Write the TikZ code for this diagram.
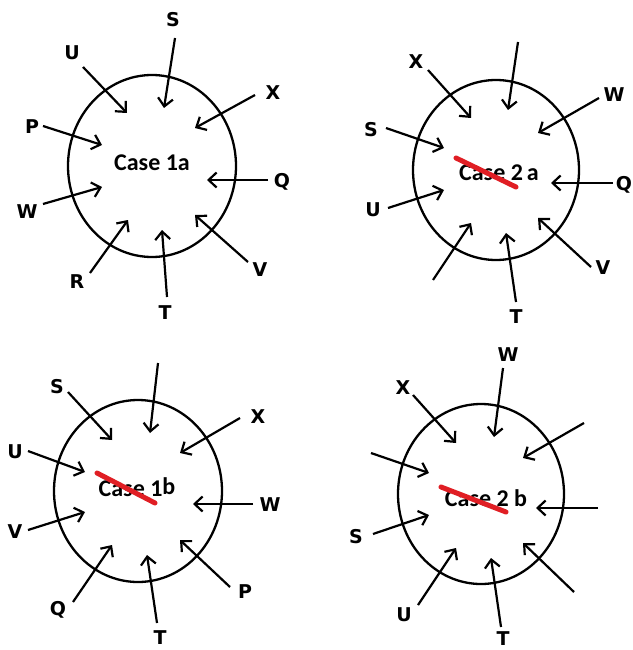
\documentclass[tikz,border=0pt]{standalone}
\usepackage{fontspec}
\setmainfont{DejaVu Sans}
\newfontfamily\casefont{Carlito}
\usetikzlibrary{arrows.meta}
\tikzset{
  lbl/.style={font=\bfseries\fontsize{19}{19}\selectfont, inner sep=0pt},
  casetxt/.style={font=\casefont\bfseries\fontsize{24}{24}\selectfont, inner sep=0pt},
  ring/.style={line width=2.3pt},
  inarrow/.style={line width=2.2pt, -{Straight Barb[length=8pt,width=15pt,line width=2.2pt]}},
  strike/.style={line width=5pt, draw={rgb,255:red,224;green,30;blue,36}, line cap=round}
}
\newcommand{\myinarr}[3]{\coordinate (#1s) at (#2); \coordinate (#1e) at (#3); \draw[inarrow] (#1s) -- (#1e);}
\begin{document}
\begin{tikzpicture}[x=1pt,y=-1pt]
\useasboundingbox (0,0) rectangle (632,650);
% ---------- Case 1a ----------
\coordinate (ctrA) at (152,166);
\draw[ring] (ctrA) ellipse [x radius=84pt, y radius=91pt];
\node[casetxt] (txtA) at (152,163) {Case 1a};
\node[lbl] (aS) at (173,20) {S};
\node[lbl] (aU) at (72,53) {U};
\node[lbl] (aX) at (273,93) {X};
\node[lbl] (aP) at (32,127) {P};
\node[lbl] (aQ) at (282,182) {Q};
\node[lbl] (aW) at (27,212) {W};
\node[lbl] (aV) at (260,270) {V};
\node[lbl] (aR) at (77,282) {R};
\node[lbl] (aT) at (165,313) {T};
\myinarr{arA1}{175,38}{164,108}
\myinarr{arA2}{83,67}{127,113}
\myinarr{arA3}{255,95}{195,128}
\myinarr{arA4}{43,126}{102,145}
\myinarr{arA5}{268,180}{207,180}
\myinarr{arA6}{43,204}{102,187}
\myinarr{arA7}{248,262}{195,215}
\myinarr{arA8}{90,273}{128,220}
\myinarr{arA9}{167,297}{162,230}
% ---------- Case 2a ----------
\coordinate (ctrB) at (496,170);
\draw[ring] (ctrB) ellipse [x radius=83pt, y radius=90pt];
\node[casetxt] (txtB) at (499,173) {Case 2\,a};
\node[lbl] (bX) at (416,62) {X};
\node[lbl] (bW) at (614,95) {W};
\node[lbl] (bS) at (371,130) {S};
\node[lbl] (bQ) at (624,185) {Q};
\node[lbl] (bU) at (373,210) {U};
\node[lbl] (bV) at (603,268) {V};
\node[lbl] (bT) at (516,317) {T};
\myinarr{arB1}{518,42}{508,110}
\myinarr{arB2}{428,70}{471,118}
\myinarr{arB3}{599,98}{538,133}
\myinarr{arB4}{386,128}{444,148}
\myinarr{arB5}{613,183}{551,183}
\myinarr{arB6}{388,208}{444,190}
\myinarr{arB7}{433,280}{471,223}
\myinarr{arB8}{516,302}{506,233}
\myinarr{arB9}{591,267}{538,218}
\coordinate (redBs) at (456,158); \coordinate (redBe) at (516,187);
\draw[strike] (redBs) -- (redBe);
% ---------- Case 1b ----------
\coordinate (ctrC) at (138,491);
\draw[ring] (ctrC) ellipse [x radius=84pt, y radius=91pt];
\node[casetxt] (txtC) at (137,487) {Case 1\raisebox{2pt}{b}};
\node[lbl] (cS) at (57,387) {S};
\node[lbl] (cX) at (258,417) {X};
\node[lbl] (cU) at (15,452) {U};
\node[lbl] (cW) at (270,505) {W};
\node[lbl] (cV) at (15,532) {V};
\node[lbl] (cP) at (245,592) {P};
\node[lbl] (cQ) at (58,610) {Q};
\node[lbl] (cT) at (160,638) {T};
\myinarr{arC1}{158,363}{150,433}
\myinarr{arC2}{68,392}{112,440}
\myinarr{arC3}{240,418}{180,453}
\myinarr{arC4}{28,451}{85,472}
\myinarr{arC5}{253,504}{193,504}
\myinarr{arC6}{28,530}{85,512}
\myinarr{arC7}{230,587}{180,540}
\myinarr{arC8}{73,602}{112,545}
\myinarr{arC9}{157,623}{147,555}
\coordinate (redCs) at (97,473); \coordinate (redCe) at (155,503);
\draw[strike] (redCs) -- (redCe);
% ---------- Case 2b ----------
\coordinate (ctrD) at (481,494);
\draw[ring] (ctrD) ellipse [x radius=83pt, y radius=90pt];
\node[casetxt] (txtD) at (486,498) {Case 2 b};
\node[lbl] (dW) at (508,355) {W};
\node[lbl] (dX) at (403,388) {X};
\node[lbl] (dS) at (356,537) {S};
\node[lbl] (dU) at (404,615) {U};
\node[lbl] (dT) at (503,639) {T};
\myinarr{arD1}{503,368}{494,437}
\myinarr{arD2}{413,395}{456,443}
\myinarr{arD3}{584,423}{523,458}
\myinarr{arD4}{371,453}{429,473}
\myinarr{arD5}{598,508}{536,508}
\myinarr{arD6}{373,534}{429,515}
\myinarr{arD7}{418,605}{456,548}
\myinarr{arD8}{501,627}{491,558}
\myinarr{arD9}{574,592}{523,543}
\coordinate (redDs) at (441,487); \coordinate (redDe) at (506,512);
\draw[strike] (redDs) -- (redDe);
\end{tikzpicture}
\end{document}
